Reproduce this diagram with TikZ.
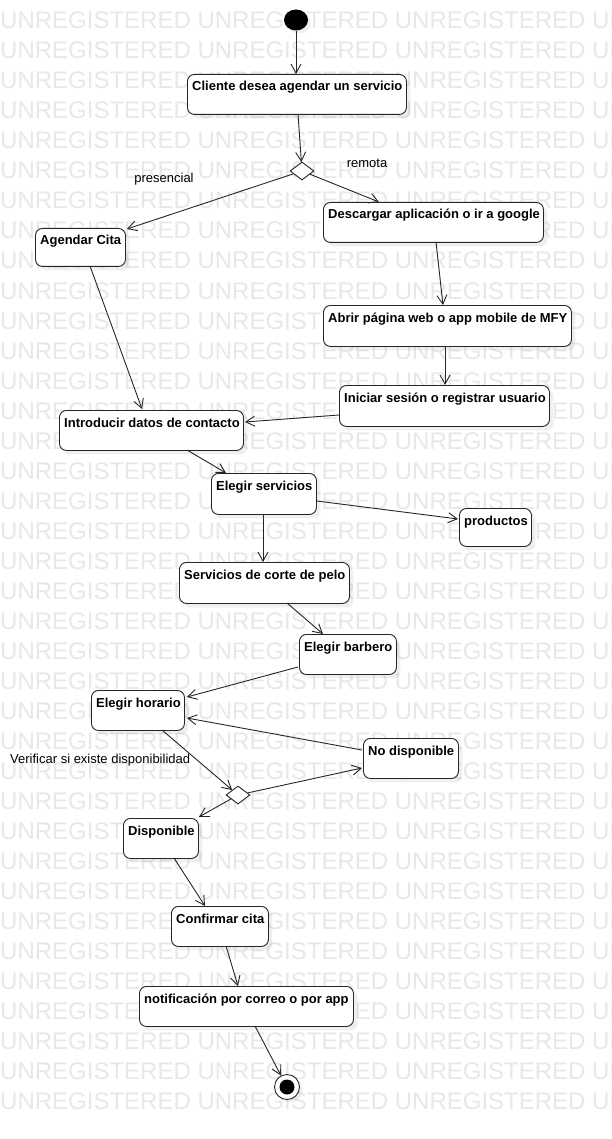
\documentclass[tikz,border=0pt]{standalone}
\usepackage{fontspec}
\setmainfont{Liberation Sans}
\usetikzlibrary{arrows.meta,shapes.geometric,calc,shadows}
\newcommand{\actbox}[6]{%
  \node[abox, minimum width=#4pt, minimum height=#5pt] (#1) at (#2,#3) {};
  \node[atext] (#1-t) at ($(#1.north west)+(5,17)$) {#6};
}
\begin{document}
\begin{tikzpicture}[x=1pt,y=-1pt,
  abox/.style={draw=black!85, line width=0.9pt, rounded corners=7pt, fill=white, inner sep=0pt, anchor=north west,
    drop shadow={shadow xshift=4pt, shadow yshift=-4pt, opacity=0.12}},
  atext/.style={anchor=base west, inner sep=0pt, font=\fontsize{13}{15}\selectfont\bfseries},
  lbl/.style={inner sep=0pt, font=\fontsize{13}{15}\selectfont},
  wm/.style={anchor=base west, inner sep=0pt, text=black!9, font=\fontsize{24}{28}\selectfont},
  flow/.style={draw=black!85, line width=0.9pt, -{Straight Barb[length=9pt,width=10pt]}},
  decision/.style={diamond, draw=black!85, line width=0.9pt, fill=white, minimum width=24pt, minimum height=18pt, inner sep=0pt},
]
\useasboundingbox (0,0) rectangle (611,1139);
\fill[white] (0,0) rectangle (611,1139);
\begin{scope}
\clip (0,0) rectangle (611,1139);
\foreach \r in {0,...,36} \node[wm] (wm\r) at (0,{29+30*\r}) {UNREGISTERED UNREGISTERED UNREGISTERED UNREGISTERED};
\end{scope}

% start / end
\node[ellipse, fill=black, minimum width=24pt, minimum height=21pt, inner sep=0pt,
  drop shadow={shadow xshift=3pt, shadow yshift=-3pt, opacity=0.12}] (start) at (296,20) {};
\node[circle, draw=black!85, line width=0.9pt, fill=white, minimum size=25pt, inner sep=0pt,
  drop shadow={shadow xshift=3pt, shadow yshift=-3pt, opacity=0.12}] (endn) at (287,1087) {};
\fill[black] (endn.center) circle[radius=7.5pt];

% action boxes
\actbox{cliente}{187}{74}{219}{40}{Cliente desea agendar un servicio}
\actbox{agendar}{35}{228}{90}{38}{Agendar Cita}
\actbox{descargar}{323}{202}{220}{40}{Descargar aplicación o ir a google}
\actbox{abrir}{323}{305}{248}{41}{Abrir página web o app mobile de MFY}
\actbox{iniciar}{339}{385}{210}{41}{Iniciar sesión o registrar usuario}
\actbox{introducir}{59}{410}{184}{40}{Introducir datos de contacto}
\actbox{servicios}{211}{473}{105}{41}{Elegir servicios}
\actbox{productos}{459}{508}{72}{38}{productos}
\actbox{corte}{179}{562}{170}{41}{Servicios de corte de pelo}
\actbox{barbero}{299}{634}{97}{40}{Elegir barbero}
\actbox{horario}{91}{690}{93}{40}{Elegir horario}
\actbox{nodisp}{363}{738}{95}{40}{No disponible}
\actbox{disp}{123}{818}{75}{40}{Disponible}
\actbox{confirmar}{171}{906}{97}{40}{Confirmar cita}
\actbox{notif}{139}{986}{214}{40}{notificación por correo o por app}

% decisions
\node[decision] (d1) at (302,171) {};
\node[decision] (d2) at (238,795) {};

% labels
\node[lbl, anchor=base] (lpres) at (164,183) {presencial};
\node[lbl, anchor=base] (lrem) at (367,168) {remota};
\node[lbl, anchor=base west] (lver) at (10,763) {Verificar si existe disponibilidad};

% connectors
\draw[flow] (start) -- ($(cliente.north west)+(109,0)$);
\draw[flow] ($(cliente.north west)+(111,40)$) -- (d1);
\draw[flow] (d1) -- ($(agendar.north east)+(1,1)$);
\draw[flow] (d1) -- ($(descargar.north west)+(56,0)$);
\draw[flow] ($(descargar.north west)+(113,40)$) -- ($(abrir.north west)+(120,0)$);
\draw[flow] ($(abrir.north west)+(122,41)$) -- ($(iniciar.north west)+(106,0)$);
\draw[flow] ($(iniciar.north west)+(0,30)$) -- ($(introducir.north east)+(1,12)$);
\draw[flow] ($(agendar.north west)+(55,38)$) -- ($(introducir.north west)+(83,-1)$);
\draw[flow] ($(introducir.north west)+(128,40)$) -- ($(servicios.north west)+(15,0)$);
\draw[flow] ($(servicios.north east)+(0,28)$) -- ($(productos.north west)+(-1,11)$);
\draw[flow] ($(servicios.north west)+(52,41)$) -- ($(corte.north west)+(84,0)$);
\draw[flow] ($(corte.north west)+(108,41)$) -- ($(barbero.north west)+(24,0)$);
\draw[flow] ($(barbero.north west)+(-1,33)$) -- ($(horario.north east)+(2,7)$);
\draw[flow] ($(nodisp.north west)+(-1,12)$) -- ($(horario.north east)+(2,28)$);
\draw[flow] ($(horario.north west)+(71,40)$) -- (d2);
\draw[flow] (d2) -- ($(nodisp.north west)+(-1,30)$);
\draw[flow] (d2) -- ($(disp.north east)+(0,-1)$);
\draw[flow] ($(disp.north west)+(51,40)$) -- ($(confirmar.north west)+(34,0)$);
\draw[flow] ($(confirmar.north west)+(55,40)$) -- ($(notif.north west)+(99,0)$);
\draw[flow] ($(notif.north west)+(116,40)$) -- (endn);
\end{tikzpicture}
\end{document}
